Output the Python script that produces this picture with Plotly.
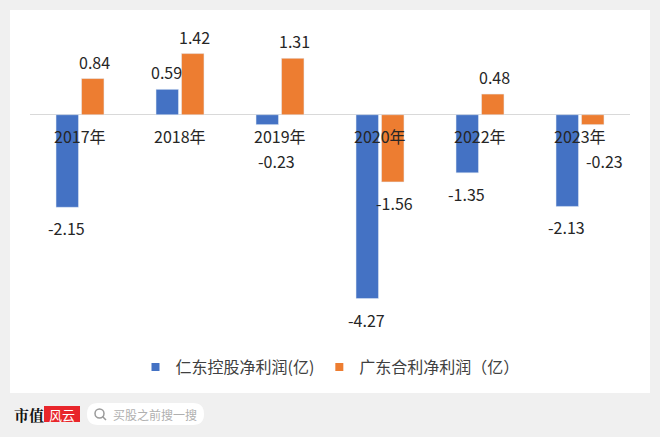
import plotly.graph_objects as go

# 年份与净利润（亿）
years = ["2017年", "2018年", "2019年", "2020年", "2022年", "2023年"]
rendong = [-2.15, 0.59, -0.23, -4.27, -1.35, -2.13]
guangdong = [0.84, 1.42, 1.31, -1.56, 0.48, -0.23]
names = ["仁东控股净利润(亿)", "广东合利净利润（亿）"]

BLUE = "#4472C4"
ORANGE = "#ED7D31"
FONT = "Noto Sans CJK SC"
W, H = 660, 437
L, R, T, B = 30, 30, 20, 107


# 像素 -> paper 坐标
def px(x):
    return (x - L) / (W - L - R)


def py(y):
    return (H - B - y) / (H - T - B)


fig = go.Figure()
fig.add_trace(go.Bar(x=years, y=rendong, name=names[0], marker_color=BLUE,
                     showlegend=False))
fig.add_trace(go.Bar(x=years, y=guangdong, name=names[1], marker_color=ORANGE,
                     showlegend=False))
# 图例用小方块
for nm, c in zip(names, (BLUE, ORANGE)):
    fig.add_trace(go.Scatter(x=[None], y=[None], mode="markers", name=nm,
                             marker=dict(symbol="square", size=8, color=c)))

annotations = []
# 数据标签
for vals, xs in ((rendong, -14), (guangdong, 14)):
    for yr, v in zip(years, vals):
        if v >= 0:
            shift_y, shift_x = 17, 0
        elif v > -0.5:
            shift_y, shift_x = -36, 10
        else:
            shift_y, shift_x = -21, 0
        annotations.append(dict(
            x=yr, y=v, xref="x", yref="y", text=f"{v:.2f}", showarrow=False,
            xshift=xs + shift_x, yshift=shift_y, yanchor="middle",
            font=dict(family=FONT, size=16, color="#262626")))
# 类别标签（紧贴零线）
for yr in years:
    annotations.append(dict(
        x=yr, y=0, xref="x", yref="y", text=yr, showarrow=False, yshift=-21,
        yanchor="middle", font=dict(family=FONT, size=16, color="#262626")))

# 页脚
annotations += [
    dict(x=px(12), y=py(414), xref="paper", yref="paper", text="<b>市值</b>",
         showarrow=False, xanchor="left", yanchor="middle",
         font=dict(family="Noto Serif CJK SC, Noto Sans CJK SC", size=15, color="#111")),
    dict(x=px(62), y=py(414), xref="paper", yref="paper", text="风云",
         showarrow=False, xanchor="center", yanchor="middle",
         font=dict(family=FONT, size=13, color="#ffffff")),
    dict(x=px(111), y=py(414), xref="paper", yref="paper", text="买股之前搜一搜",
         showarrow=False, xanchor="left", yanchor="middle",
         font=dict(family=FONT, size=12, color="#b0b0b0")),
]


def pill(x0, y0, x1, y1, r):
    a0, a1 = px(x0), px(x1)
    b0, b1 = py(y1), py(y0)
    rx = r / (W - L - R)
    ry = r / (H - T - B)
    return (f"M{a0 + rx},{b0} L{a1 - rx},{b0} Q{a1},{b0} {a1},{b0 + ry} "
            f"L{a1},{b1 - ry} Q{a1},{b1} {a1 - rx},{b1} L{a0 + rx},{b1} "
            f"Q{a0},{b1} {a0},{b1 - ry} L{a0},{b0 + ry} Q{a0},{b0} {a0 + rx},{b0} Z")


shapes = [
    # 白色卡片
    dict(type="rect", xref="paper", yref="paper", layer="below",
         x0=px(10), x1=px(650), y0=py(393), y1=py(10),
         fillcolor="white", line_width=0),
    # 红色 logo 块
    dict(type="rect", xref="paper", yref="paper", layer="below",
         x0=px(44), x1=px(80), y0=py(422), y1=py(406),
         fillcolor="#e8262b", line_width=0),
    # 搜索框
    dict(type="path", xref="paper", yref="paper", layer="below",
         path=pill(87, 403, 204, 425, 11), fillcolor="white", line_width=0),
    # 放大镜
    dict(type="circle", xref="paper", yref="paper",
         x0=px(95), x1=px(104), y0=py(418), y1=py(409),
         line=dict(color="#9a9a9a", width=1.5)),
    dict(type="line", xref="paper", yref="paper",
         x0=px(102.5), x1=px(106), y0=py(416.5), y1=py(420),
         line=dict(color="#9a9a9a", width=1.5)),
]

fig.update_layout(
    width=W, height=H,
    margin=dict(l=L, r=R, t=T, b=B),
    paper_bgcolor="#f0f0f0",
    plot_bgcolor="rgba(0,0,0,0)",
    barmode="group", bargap=0.49, bargroupgap=0.12,
    showlegend=True,
    legend=dict(orientation="h", x=0.5, xanchor="center", y=py(367), yanchor="middle",
                font=dict(family=FONT, size=16, color="#404040"),
                bgcolor="rgba(0,0,0,0)", itemwidth=30),
    xaxis=dict(showticklabels=False, showgrid=False, showline=False, ticks=""),
    yaxis=dict(range=[-5.0, 2.2], showticklabels=False, showgrid=False,
               zeroline=True, zerolinecolor="#d9d9d9", zerolinewidth=1),
    annotations=annotations,
    shapes=shapes,
)

fig.write_html("out.html", config={"displayModeBar": False},
               post_script="document.body.style.margin='0';")
